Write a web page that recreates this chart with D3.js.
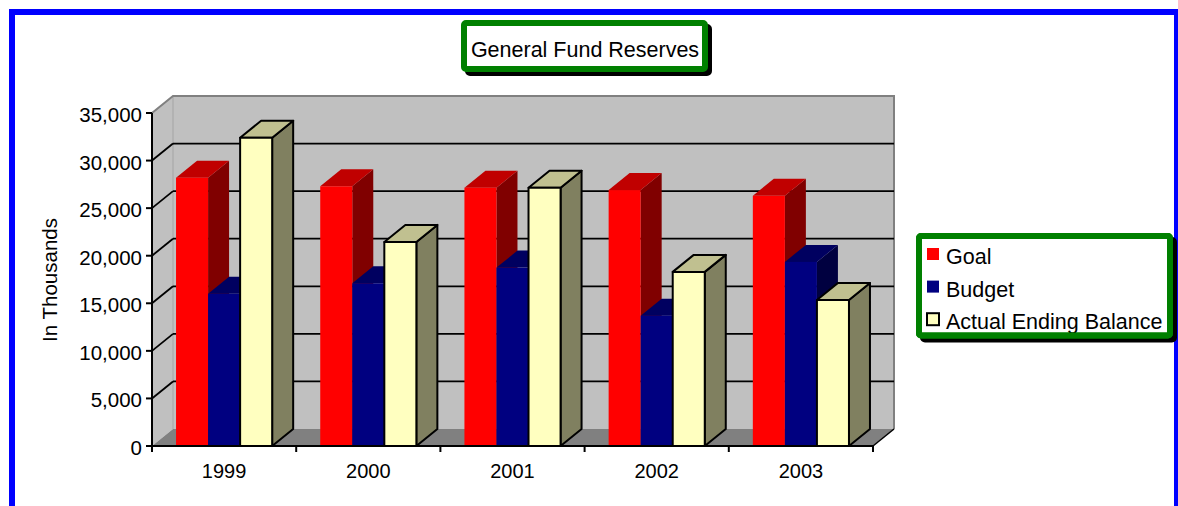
<!DOCTYPE html>
<html>
<head>
<meta charset="utf-8">
<script src="https://cdn.jsdelivr.net/npm/d3@7"></script>
<style>
  html, body { margin: 0; padding: 0; background: #fff; }
  svg { display: block; }
  text { font-family: "Liberation Sans", Arial, sans-serif; fill: #000; }
</style>
</head>
<body>
<svg id="chart" width="1178" height="506"></svg>
<script>
// chart data
var years = ["1999", "2000", "2001", "2002", "2003"];
var seriesNames = ["Goal", "Budget", "Actual Ending Balance"];
var goal = [28200, 27300, 27150, 26900, 26300];
var budget = [16000, 17100, 18750, 13700, 19350];
var actual = [32400, 21450, 27150, 18300, 15350];
var yTicks = [0, 5000, 10000, 15000, 20000, 25000, 30000, 35000];

var seriesValues = [goal, budget, actual];

// face colours: front, top, side
var faceColors = [
  ["#ff0000", "#c00000", "#800000"],
  ["#000080", "#000060", "#000040"],
  ["#ffffc0", "#c0c090", "#808060"]
];

var svg = d3.select("#chart");

// depth of the 3d box
var dx = 21, dy = -17;

var y = d3.scaleLinear().domain([0, 35000]).range([446, 113]);
var x = d3.scaleBand().domain(years).range([152, 873]);
var xs = d3.scaleBand().domain(seriesNames).range([0, x.bandwidth()])
  .paddingInner(0).paddingOuter(0.75);

var left = x.range()[0], right = x.range()[1];
var y0 = y(0), yTop = y(35000);

// outer blue frame
svg.append("rect")
  .attr("x", 12).attr("y", 12).attr("width", 1165).attr("height", 520)
  .attr("fill", "#fff").attr("stroke", "#0000ff").attr("stroke-width", 6);

var plot = svg.append("g");

// back wall
plot.append("rect")
  .attr("x", left + dx).attr("y", yTop + dy)
  .attr("width", right - left).attr("height", y0 - yTop)
  .attr("fill", "#c0c0c0");

// left wall
plot.append("polygon")
  .attr("points", [[left, yTop], [left + dx, yTop + dy], [left + dx, y0 + dy], [left, y0]].join(" "))
  .attr("fill", "#c0c0c0");

// floor
plot.append("polygon")
  .attr("points", [[left, y0], [right, y0], [right + dx, y0 + dy], [left + dx, y0 + dy]].join(" "))
  .attr("fill", "#808080");

// wall edges
plot.append("line")
  .attr("x1", left + dx).attr("x2", left + dx)
  .attr("y1", yTop + dy).attr("y2", y0 + dy)
  .attr("stroke", "#a4a4a4").attr("stroke-width", 1);
plot.append("polyline")
  .attr("points", [[left, yTop], [left + dx, yTop + dy], [right + dx, yTop + dy], [right + dx, y0 + dy]].join(" "))
  .attr("fill", "none").attr("stroke", "#808080").attr("stroke-width", 2);
plot.append("line")
  .attr("x1", right).attr("y1", y0).attr("x2", right + dx).attr("y2", y0 + dy)
  .attr("stroke", "#000").attr("stroke-width", 1.5);

// gridlines on back and left walls
var gridTicks = yTicks.filter(function (t) { return t > 0 && t < 35000; });
plot.selectAll(".grid-back")
  .data(gridTicks).enter().append("line")
  .attr("class", "grid-back")
  .attr("x1", left + dx).attr("x2", right + dx)
  .attr("y1", function (d) { return y(d) + dy; })
  .attr("y2", function (d) { return y(d) + dy; })
  .attr("stroke", "#000").attr("stroke-width", 1.8);
plot.selectAll(".grid-side")
  .data(gridTicks).enter().append("line")
  .attr("class", "grid-side")
  .attr("x1", left).attr("x2", left + dx)
  .attr("y1", function (d) { return y(d); })
  .attr("y2", function (d) { return y(d) + dy; })
  .attr("stroke", "#000").attr("stroke-width", 1.8);

// bars, drawn left to right so later faces hide earlier sides
var bars = [];
years.forEach(function (yr, i) {
  seriesNames.forEach(function (s, j) {
    bars.push({ year: yr, series: j, value: seriesValues[j][i] });
  });
});

var barG = plot.selectAll(".bar")
  .data(bars).enter().append("g")
  .attr("class", "bar");

barG.each(function (d) {
  var g = d3.select(this);
  var x0 = x(d.year) + xs(seriesNames[d.series]);
  var w = xs.bandwidth();
  var yt = y(d.value);
  var cols = faceColors[d.series];
  var outlined = d.series === 2;
  var strokeIt = function (sel) {
    if (outlined) {
      sel.attr("stroke", "#000").attr("stroke-width", 2).attr("stroke-linejoin", "round");
    }
    return sel;
  };
  strokeIt(g.append("polygon")
    .attr("points", [[x0 + w, yt], [x0 + w + dx, yt + dy], [x0 + w + dx, y0 + dy], [x0 + w, y0]].join(" "))
    .attr("fill", cols[2]));
  strokeIt(g.append("polygon")
    .attr("points", [[x0, yt], [x0 + w, yt], [x0 + w + dx, yt + dy], [x0 + dx, yt + dy]].join(" "))
    .attr("fill", cols[1]));
  strokeIt(g.append("rect")
    .attr("x", x0).attr("y", yt).attr("width", w).attr("height", y0 - yt)
    .attr("fill", cols[0]));
});

// y axis
var axisG = svg.append("g");
axisG.append("line")
  .attr("x1", left).attr("x2", left).attr("y1", yTop).attr("y2", y0)
  .attr("stroke", "#000").attr("stroke-width", 2);
axisG.selectAll(".ytick")
  .data(yTicks).enter().append("line")
  .attr("x1", left - 6).attr("x2", left)
  .attr("y1", function (d) { return y(d); })
  .attr("y2", function (d) { return y(d); })
  .attr("stroke", "#000").attr("stroke-width", 2);
axisG.selectAll(".ylabel")
  .data(yTicks).enter().append("text")
  .attr("x", left - 10)
  .attr("y", function (d) { return y(d) + 9; })
  .attr("text-anchor", "end")
  .attr("font-size", "20.5px")
  .text(d3.format(","));

// x axis
axisG.append("line")
  .attr("x1", left).attr("x2", right).attr("y1", y0).attr("y2", y0)
  .attr("stroke", "#000").attr("stroke-width", 2);
var xBounds = years.map(function (d) { return x(d); }).concat([right]);
axisG.selectAll(".xtick")
  .data(xBounds).enter().append("line")
  .attr("x1", function (d) { return d; }).attr("x2", function (d) { return d; })
  .attr("y1", y0).attr("y2", y0 + 6)
  .attr("stroke", "#000").attr("stroke-width", 2);
axisG.selectAll(".xlabel")
  .data(years).enter().append("text")
  .attr("x", function (d) { return x(d) + x.bandwidth() / 2; })
  .attr("y", 478)
  .attr("text-anchor", "middle")
  .attr("font-size", "20px")
  .text(function (d) { return d; });

// y axis title
svg.append("text")
  .attr("transform", "translate(57,280) rotate(-90)")
  .attr("text-anchor", "middle")
  .attr("font-size", "20.5px")
  .text("In Thousands");

// boxed title with shadow
function shadowBox(bx, by, bw, bh) {
  svg.append("rect")
    .attr("x", bx + 4).attr("y", by + 4).attr("width", bw).attr("height", bh)
    .attr("fill", "#000").attr("stroke", "#000").attr("stroke-width", 6).attr("rx", 2);
  return svg.append("rect")
    .attr("x", bx).attr("y", by).attr("width", bw).attr("height", bh)
    .attr("fill", "#fff").attr("stroke", "#008000").attr("stroke-width", 6).attr("rx", 2);
}

shadowBox(464, 23, 241, 46);
svg.append("text")
  .attr("x", 585).attr("y", 56.5)
  .attr("text-anchor", "middle")
  .attr("font-size", "21.5px")
  .text("General Fund Reserves");

// legend
var legendBg = shadowBox(919, 236, 251, 99.5);
var legendG = svg.append("g");
var rows = legendG.selectAll(".leg")
  .data(seriesNames).enter().append("g")
  .attr("transform", function (d, i) { return "translate(927," + (264 + i * 32.6) + ")"; });
rows.append("rect")
  .attr("x", 0).attr("y", -16).attr("width", 12).attr("height", 12)
  .attr("fill", function (d, i) { return faceColors[i][0]; })
  .attr("stroke", function (d, i) { return i === 2 ? "#000" : "none"; })
  .attr("stroke-width", 2);
rows.append("text")
  .attr("x", 19).attr("y", 0)
  .attr("font-size", "21.5px")
  .text(function (d) { return d; });
// border redrawn over the text so the last row is clipped like the original
svg.append("rect")
  .attr("x", 919).attr("y", 236).attr("width", 251).attr("height", 99.5)
  .attr("fill", "none").attr("stroke", "#008000").attr("stroke-width", 6).attr("rx", 2);
</script>
</body>
</html>
